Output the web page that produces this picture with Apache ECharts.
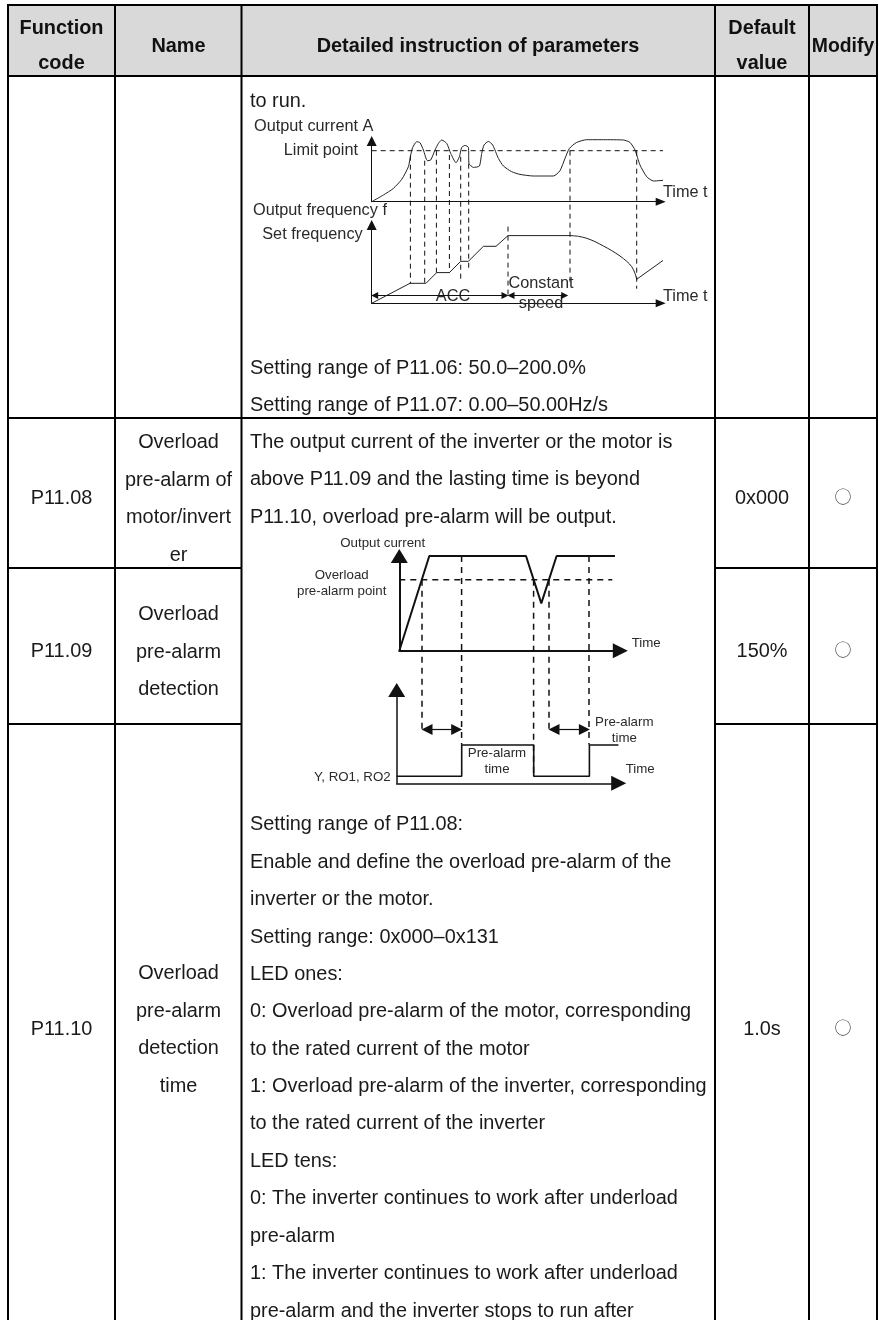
<!DOCTYPE html>
<html>
<head>
<meta charset="utf-8">
<title>P11 parameters</title>
<style>
  html, body { margin: 0; padding: 0; background: #fff; }
  #main { width: 879px; height: 1320px; }
</style>
</head>
<body>
<div id="main"></div>
<script src="https://cdn.jsdelivr.net/npm/echarts@6/dist/echarts.min.js"></script>
<script>
// values, in screen px from each panel's origin
const currentCurve = [[0,0],[11.7,6.7],[21.7,13.3],[30,22.3],[36.7,35],[39,46.7],[41,54.3],[45,60],[48.3,59],[51.7,51.7],[55.7,41],[59,41.7],[63.3,51.7],[66.7,58.3],[70,61.7],[75,58.3],[79,48.3],[84.3,39],[87.7,45],[90,54.3],[93.3,56.3],[96.7,54.3],[97.3,38.3],[101.7,34.3],[107.7,35.7],[110,48.3],[112.3,56.7],[116.7,60.3],[121,56.7],[126.7,43.3],[131.7,35.7],[140,30],[148.3,27.3],[161.7,25.7],[181.7,25.7],[188.3,31],[193.3,43.3],[197.7,53.3],[205,59.3],[215,62],[231.7,62],[251.7,61.7],[258.3,59.3],[263.3,51.7],[268.3,36.7],[275,25],[281.7,20.7],[295,21.7]];
const limitLine = [[0,51],[296.7,51]];
const freqRamp = [[0,0],[38.3,20],[54.3,20],[65,30.7],[77.7,30.7],[89,42],[96.7,42],[111.7,57],[124.3,57],[136.3,67.7],[198.3,67.7]];
const freqDecay = [[198.3,67.7],[206.7,67],[215,65],[223.3,61.7],[231.7,57.3],[240,52.7],[248.3,47.3],[255,42],[260,36.7],[263.3,30],[265,24]];
const freqRestart = [[265,24],[296.7,46.7]];
// dashed drop lines as [x, from, to] in current-panel px
const dropLines = [[38.7,46,-82],[53,41,-82],[64.7,51,-71],[77.7,46.7,-71],[89,45,-80],[97,38,-70],[198.3,51,-82],[265,51,-87]];
const accDrop = [[136.3,76.7,8]];
const accSpan = [0,136.3,7.7];
const constSpan = [136.3,196,7.7];

const overloadCurrent = [[0,0],[30,94.7],[126.7,94.7],[142,47.3],[157.3,94.7],[215.7,94.7]];
const overloadLevel = [[0,71],[213,71]];
const alarmSignal = [[0,7],[65,7],[65,38.3],[137,38.3],[137,7],[192.7,7],[192.7,38.3],[221.7,38.3]];
const alarmDrops = [[22.7,71,-79],[62.3,94.7,-94],[134.3,71,-126],[149.7,71,-79],[189.7,94.7,-94]];
const alarmSpans = [[25.3,65,53.7],[152.3,192.7,53.7]];

const tableRowsLeft = [
  { y: 497, code: 'P11.08', def: '0x000', nameY: 441, name: ['Overload', 'pre-alarm of', 'motor/invert', 'er'] },
  { y: 650, code: 'P11.09', def: '150%', nameY: 613, name: ['Overload', 'pre-alarm', 'detection'] },
  { y: 1028, code: 'P11.10', def: '1.0s', nameY: 972, name: ['Overload', 'pre-alarm', 'detection', 'time'] }
];
const detailLines = [
  ['to run.', 100],
  ['Setting range of P11.06: 50.0–200.0%', 366.7],
  ['Setting range of P11.07: 0.00–50.00Hz/s', 403.3],
  ['The output current of the inverter or the motor is', 441],
  ['above P11.09 and the lasting time is beyond', 478],
  ['P11.10, overload pre-alarm will be output.', 516],
  ['Setting range of P11.08:', 823],
  ['Enable and define the overload pre-alarm of the', 861],
  ['inverter or the motor.', 898],
  ['Setting range: 0x000–0x131', 935.5],
  ['LED ones:', 973],
  ['0: Overload pre-alarm of the motor, corresponding', 1010],
  ['to the rated current of the motor', 1047.5],
  ['1: Overload pre-alarm of the inverter, corresponding', 1085],
  ['to the rated current of the inverter', 1122],
  ['LED tens:', 1160],
  ['0: The inverter continues to work after underload', 1197],
  ['pre-alarm', 1235],
  ['1: The inverter continues to work after underload', 1272],
  ['pre-alarm and the inverter stops to run after', 1310]
];

const FONT = '"Liberation Sans", Arial, sans-serif';
const chart = echarts.init(document.getElementById('main'));

function txt(x, y, text, size, o) {
  o = o || {};
  return {
    type: 'text', x: x, y: y + (size >= 19 ? 2 : 1), z: 5,
    style: {
      text: text, fontFamily: o.family || FONT, fontSize: size, fontWeight: o.weight || 'normal',
      fill: o.color || '#1a1a1a', align: o.align || 'left', verticalAlign: 'middle'
    }
  };
}
function rule(x1, y1, x2, y2) {
  return { type: 'line', z: 3, shape: { x1: x1, y1: y1, x2: x2, y2: y2 }, style: { stroke: '#000', lineWidth: 2 } };
}
function head(x, y, s, size) {
  return txt(x, y, s, size || 19.9, { weight: 'bold', align: 'center', color: '#111' });
}
function small(x, y, s, align) {
  return txt(x, y, s, 13.3, { align: align || 'center', color: '#2a2a2a' });
}
function mid(x, y, s, align) {
  return txt(x, y, s, 16.3, { align: align || 'left', color: '#2a2a2a' });
}

// table frame
const colX = [8, 115, 241.5, 715, 809, 877];
const g = [];
g.push({ type: 'rect', z: 1, shape: { x: 8, y: 5, width: 869, height: 71 }, style: { fill: '#d9d9d9' } });
colX.forEach(function (x) { g.push(rule(x, 5, x, 1320)); });
g.push(rule(7, 5, 878, 5), rule(7, 76, 878, 76), rule(7, 418, 878, 418));
[568, 724].forEach(function (y) {
  g.push(rule(7, y, 242, y), rule(715, y, 878, y));
});

// header
g.push(
  head(61.5, 27, 'Function'), head(61.5, 62, 'code'), head(178.5, 45, 'Name'),
  head(478, 45, 'Detailed instruction of parameters'),
  head(762, 27, 'Default'), head(762, 62, 'value'), head(843, 45, 'Modify', 19.4)
);
tableRowsLeft.forEach(function (r) {
  g.push(txt(61.5, r.y, r.code, 19.9, { align: 'center' }));
  g.push(txt(762, r.y, r.def, 19.9, { align: 'center' }));
  g.push(txt(843, r.y - 1, '○', 17, { align: 'center', family: '"Noto Sans CJK SC"', color: '#444' }));
  r.name.forEach(function (s, i) {
    g.push(txt(178.5, r.nameY + i * 37.4, s, 19.9, { align: 'center' }));
  });
});
detailLines.forEach(function (d) { g.push(txt(250, d[1], d[0], 19.9)); });

// text inside the diagrams
g.push(
  mid(254, 126, 'Output current A'),
  mid(358, 150, 'Limit point', 'right'),
  mid(253, 210, 'Output frequency f'),
  mid(362.7, 234, 'Set frequency', 'right'),
  mid(663, 191.7, 'Time t'),
  mid(663, 295.7, 'Time t'),
  mid(453, 295.7, 'ACC', 'center'),
  mid(541, 283, 'Constant', 'center'),
  mid(541, 303, 'speed', 'center'),
  small(382.7, 542.7, 'Output current'),
  small(341.7, 574, 'Overload'),
  small(341.7, 590.5, 'pre-alarm point'),
  small(631.7, 642.5, 'Time', 'left'),
  small(497, 752.5, 'Pre-alarm'),
  small(497, 768.5, 'time'),
  small(624.3, 721.5, 'Pre-alarm'),
  small(624.3, 737.5, 'time'),
  small(625.7, 768.5, 'Time', 'left'),
  small(390.7, 776.5, 'Y, RO1, RO2', 'right')
);

// one x axis and one y axis per panel, 1 unit = 1 px
function xAx(idx, width, lw, arrow) {
  return {
    gridIndex: idx, type: 'value', min: 0, max: width,
    axisLine: { onZero: false, lineStyle: { color: '#111', width: lw }, symbol: ['none', 'triangle'], symbolSize: arrow },
    axisTick: { show: false }, axisLabel: { show: false }, splitLine: { show: false }
  };
}
function yAx(idx, height, lw, arrow) {
  return {
    gridIndex: idx, type: 'value', min: 0, max: height,
    axisLine: { onZero: false, lineStyle: { color: '#111', width: lw }, symbol: ['none', 'triangle'], symbolSize: arrow },
    axisTick: { show: false }, axisLabel: { show: false }, splitLine: { show: false }
  };
}
function line(idx, data, color, width, extra) {
  return Object.assign({
    type: 'line', xAxisIndex: idx, yAxisIndex: idx, data: data, symbol: 'none', clip: false,
    silent: true, animation: false, lineStyle: { color: color, width: width }
  }, extra || {});
}
function dashed(idx, data, width, dash) {
  return line(idx, data, '#111', width, { lineStyle: { color: '#111', width: width, type: dash } });
}
function vert(v) { return [[v[0], v[1]], [v[0], v[2]]]; }
function span(idx, s, arrow, inset) {
  return line(idx, [], '#111', 1, {
    markLine: {
      silent: true, animation: false, symbol: ['triangle', 'triangle'], symbolSize: arrow,
      lineStyle: { color: '#111', width: 1.2, type: 'solid' },
      label: { show: false },
      data: [[{ coord: [s[0] + inset, s[2]] }, { coord: [s[1] - inset, s[2]] }]]
    }
  });
}

const series = [
  line(0, currentCurve, '#222', 1, { smooth: 0.2 }),
  dashed(0, limitLine, 1, [5, 4]),
  line(1, freqRamp, '#222', 1),
  line(1, freqDecay, '#222', 1, { smooth: 0.3 }),
  line(1, freqRestart, '#222', 1),
  span(1, accSpan, 7, 3),
  span(1, constSpan, 7, 3),
  line(2, overloadCurrent, '#111', 2),
  dashed(2, overloadLevel, 1.5, [6, 5]),
  line(3, alarmSignal, '#111', 1.6),
  span(3, alarmSpans[0], 11, 5),
  span(3, alarmSpans[1], 11, 5)
];
dropLines.forEach(function (v) { series.push(dashed(0, vert(v), 1, [5, 4])); });
accDrop.forEach(function (v) { series.push(dashed(1, vert(v), 1, [5, 4])); });
alarmDrops.forEach(function (v) { series.push(dashed(2, vert(v), 1.5, [6, 5])); });

chart.setOption({
  animation: false,
  backgroundColor: '#fff',
  grid: [
    { left: 371.7, top: 141, width: 289, height: 60.7 },
    { left: 371.7, top: 225, width: 289, height: 78.3 },
    { left: 399.3, top: 556, width: 221, height: 94.7 },
    { left: 396.7, top: 690, width: 222, height: 93.3 }
  ],
  xAxis: [xAx(0, 289, 1, [8, 10]), xAx(1, 289, 1, [8, 10]), xAx(2, 221, 2, [15, 15]), xAx(3, 222, 1.5, [15, 15])],
  yAxis: [yAx(0, 60.7, 1, [10, 10]), yAx(1, 78.3, 1, [10, 10]), yAx(2, 94.7, 2, [17, 14]), yAx(3, 93.3, 1.5, [17, 14])],
  series: series,
  graphic: { elements: g }
});
</script>
</body>
</html>
